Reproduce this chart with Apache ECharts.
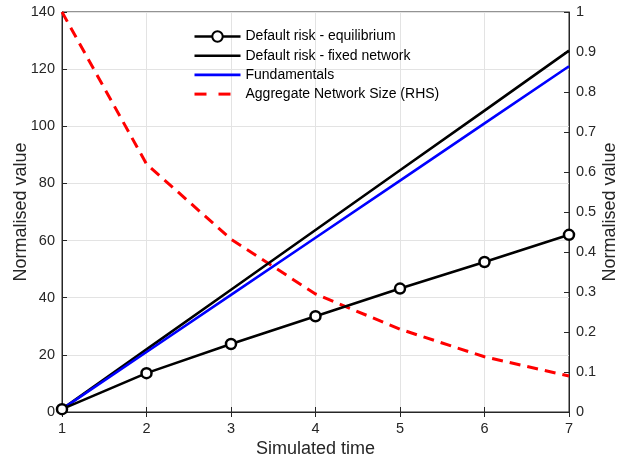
<!DOCTYPE html>
<html>
<head>
<meta charset="utf-8">
<script src="https://cdn.jsdelivr.net/npm/echarts@6/dist/echarts.min.js"></script>
<style>html,body{margin:0;padding:0;background:#fff}#c{width:622px;height:458px}</style>
</head>
<body>
<div id="c"></div>
<script>
var times = [1, 2, 3, 4, 5, 6, 7];
var riskEquilibrium = [1, 13.6, 23.8, 33.5, 43.2, 52.5, 62.0];
var riskFixed = [1, 21.9, 42.8, 63.7, 84.6, 105.5, 126.5];
var fundamentals = [1, 21.0, 41.0, 61.0, 81.0, 101.0, 121.0];
var networkSize = [1, 0.62, 0.432, 0.295, 0.207, 0.138, 0.09];
var seriesNames = ['Default risk - equilibrium', 'Default risk - fixed network', 'Fundamentals', 'Aggregate Network Size (RHS)'];

function pairs(ys) { return times.map(function (t, i) { return [t, ys[i]]; }); }

var axisColor = '#262626';
var gridColor = '#e3e3e3';
var font = 'Liberation Sans, Arial, sans-serif';

var chart = echarts.init(document.getElementById('c'), null, {renderer: 'canvas'});
chart.setOption({
  animation: false,
  backgroundColor: '#fff',
  grid: {left: 62, right: 53, top: 12, bottom: 46, containLabel: false, outerBoundsMode: 'none',
         show: true, borderColor: axisColor, borderWidth: 1, backgroundColor: 'transparent'},
  legend: {
    orient: 'vertical', left: 193, top: 29.5, padding: 0, itemWidth: 46, itemHeight: 13, itemGap: 5.2,
    textStyle: {fontFamily: font, fontSize: 14, color: '#000'},
    data: [
      {name: seriesNames[0], lineStyle: {width: 2.6}},
      {name: seriesNames[1], itemStyle: {opacity: 0}, lineStyle: {width: 2.6}},
      {name: seriesNames[2], itemStyle: {opacity: 0}, lineStyle: {width: 2.6}},
      {name: seriesNames[3], itemStyle: {opacity: 0}, lineStyle: {width: 3, type: [12, 12]}}
    ]
  },
  xAxis: [{
    type: 'value', min: 1, max: 7, interval: 1,
    name: 'Simulated time', nameLocation: 'middle', nameGap: 28, nameMoveOverlap: false,
    nameTextStyle: {fontFamily: font, fontSize: 18, color: axisColor},
    axisLine: {show: true, lineStyle: {color: axisColor}},
    axisTick: {show: true, inside: true, length: 5, lineStyle: {color: axisColor}},
    axisLabel: {fontFamily: font, fontSize: 14.5, color: axisColor, margin: 9},
    splitLine: {show: true, lineStyle: {color: gridColor}}
  }, {
    type: 'value', min: 1, max: 7, interval: 1, position: 'top',
    axisLine: {show: true, lineStyle: {color: axisColor}},
    axisTick: {show: true, inside: true, length: 5, lineStyle: {color: axisColor}},
    axisLabel: {show: false}, splitLine: {show: false}
  }],
  yAxis: [{
    type: 'value', min: 0, max: 140, interval: 20,
    name: 'Normalised value', nameLocation: 'middle', nameGap: 32, nameRotate: 90, nameMoveOverlap: false,
    nameTextStyle: {fontFamily: font, fontSize: 18, color: axisColor},
    axisLine: {show: true, lineStyle: {color: axisColor}},
    axisTick: {show: true, inside: true, length: 5, lineStyle: {color: axisColor}},
    axisLabel: {fontFamily: font, fontSize: 14.5, color: axisColor, margin: 7},
    splitLine: {show: true, lineStyle: {color: gridColor}}
  }, {
    type: 'value', min: 0, max: 1, interval: 0.1, position: 'right',
    name: 'Normalised value', nameLocation: 'middle', nameGap: 32, nameRotate: 90, nameMoveOverlap: false,
    nameTextStyle: {fontFamily: font, fontSize: 18, color: axisColor},
    axisLine: {show: true, lineStyle: {color: axisColor}},
    axisTick: {show: true, inside: true, length: 5, lineStyle: {color: axisColor}},
    axisLabel: {fontFamily: font, fontSize: 14.5, color: axisColor, margin: 7},
    splitLine: {show: false}
  }],
  series: [{
    name: seriesNames[3], type: 'line', yAxisIndex: 1, data: pairs(networkSize),
    showSymbol: false, symbol: 'none',
    lineStyle: {color: '#ff0000', width: 3, type: [11, 7]}, itemStyle: {color: '#ff0000'}, z: 2
  }, {
    name: seriesNames[1], type: 'line', data: pairs(riskFixed), symbol: 'none',
    lineStyle: {color: '#000', width: 2.6}, itemStyle: {color: '#000'}, z: 3
  }, {
    name: seriesNames[2], type: 'line', data: pairs(fundamentals), symbol: 'none',
    lineStyle: {color: '#0000ff', width: 2.6}, itemStyle: {color: '#0000ff'}, z: 4
  }, {
    name: seriesNames[0], type: 'line', data: pairs(riskEquilibrium),
    symbol: 'circle', symbolSize: 10, showAllSymbol: true,
    lineStyle: {color: '#000', width: 2.6}, itemStyle: {color: '#fff', borderColor: '#000', borderWidth: 2.5}, z: 5
  }]
});
</script>
</body>
</html>
